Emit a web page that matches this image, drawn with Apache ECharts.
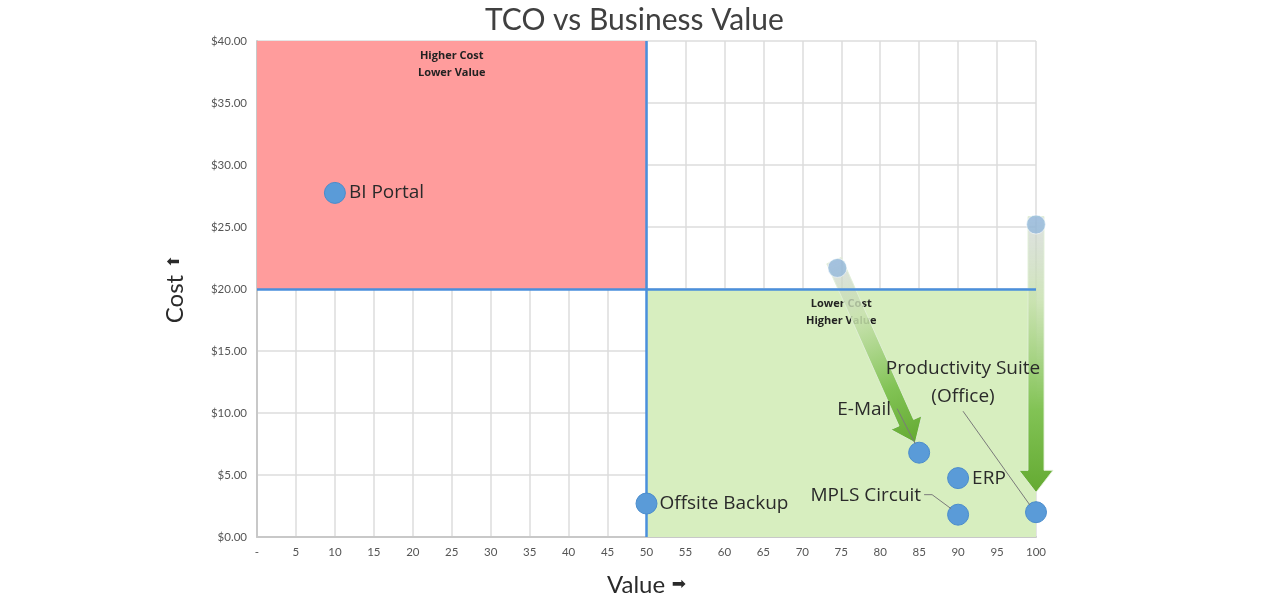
<!DOCTYPE html>
<html>
<head>
<meta charset="utf-8">
<script src="https://cdn.jsdelivr.net/npm/echarts@6/dist/echarts.min.js"></script>
<style>html,body{margin:0;padding:0;background:#fff;}#c{width:1284px;height:605px;}</style>
</head>
<body>
<div id="c"></div>
<script>
// ---- data ----
const titleText = 'TCO vs Business Value';
const xAxisName = 'Value';
const yAxisName = 'Cost';
const xAxisArrow = '\u27A1';
const yAxisArrow = '\u2B06';
const pointNames = ['BI Portal', 'Offsite Backup', 'E-Mail', 'ERP', 'MPLS Circuit', 'Productivity Suite\n(Office)'];
const pointValues = [10, 50, 85, 90, 90, 100];
const pointCosts = [27.75, 2.7, 6.8, 4.75, 1.8, 2.0];
const prevValues = [74.5, 100];
const prevCosts = [21.7, 25.2];
const arrowTipValues = [84.5, 100];
const arrowTipCosts = [7.6, 3.6];
const quadrantLabels = ['Higher Cost\nLower Value', 'Lower Cost\nHigher Value'];
const valueSplit = 50;
const costSplit = 20;
const valueMin = 0, valueMax = 100, valueStep = 5;
const costMin = 0, costMax = 40, costStep = 5;

// ---- styling (pixel offsets for labels / leader lines) ----
const labelStyles = [
  {position: 'right', distance: 3},
  {position: 'right', distance: 2},
  {position: 'inside', align: 'right', offset: [-28, -43]},
  {position: 'right', distance: 3},
  {position: 'inside', align: 'right', offset: [-37, -19]},
  {position: 'inside', align: 'center', offset: [-73, -130]}
];
const leaderLines = {
  2: [[-22, -44], [-4, -9]],
  4: [[-34, -20], [-26, -20], [-7, -6]],
  5: [[-73, -101], [-6, -7]]
};

const chart = echarts.init(document.getElementById('c'));
const pointData = pointNames.map((n, i) => ({
  name: n,
  value: [pointValues[i], pointCosts[i]],
  label: Object.assign({show: true, formatter: '{b}'}, labelStyles[i])
}));
const arrowData = prevValues.map((v, i) => [v, prevCosts[i], arrowTipValues[i], arrowTipCosts[i]]);

function renderArrow(params, api) {
  const p0 = api.coord([api.value(0), api.value(1)]);
  const p1 = api.coord([api.value(2), api.value(3)]);
  const dx = p1[0] - p0[0], dy = p1[1] - p0[1];
  const len = Math.sqrt(dx * dx + dy * dy);
  const ux = dx / len, uy = dy / len;
  const nx = -uy, ny = ux;
  const sw = 8, hw = 17, hl = 22;
  const s0 = [p0[0] - ux * 8, p0[1] - uy * 8];
  const hb = [p1[0] - ux * hl, p1[1] - uy * hl];
  const pts = [
    [s0[0] + nx * sw, s0[1] + ny * sw],
    [hb[0] + nx * sw, hb[1] + ny * sw],
    [hb[0] + nx * hw, hb[1] + ny * hw],
    p1,
    [hb[0] - nx * hw, hb[1] - ny * hw],
    [hb[0] - nx * sw, hb[1] - ny * sw],
    [s0[0] - nx * sw, s0[1] - ny * sw]
  ];
  return {
    type: 'polygon',
    shape: {points: pts},
    style: {
      fill: {
        type: 'linear', x: s0[0], y: s0[1], x2: p1[0], y2: p1[1], global: true,
        colorStops: [
          {offset: 0, color: 'rgba(205,210,210,0.65)'},
          {offset: 0.3, color: 'rgba(200,225,175,0.85)'},
          {offset: 0.7, color: 'rgba(130,195,85,1)'},
          {offset: 1, color: 'rgba(100,170,50,1)'}
        ]
      },
      stroke: 'rgba(225,240,215,0.9)',
      lineWidth: 1
    }
  };
}

function renderLeader(params, api) {
  const segs = leaderLines[params.dataIndex];
  if (!segs) return null;
  const p = api.coord([api.value(0), api.value(1)]);
  return {
    type: 'polyline',
    shape: {points: segs.map(s => [p[0] + s[0], p[1] + s[1]])},
    style: {stroke: '#7a7a7a', lineWidth: 1, fill: null}
  };
}

const option = {
  animation: false,
  title: {
    text: titleText, left: 480, top: 0,
    textStyle: {fontFamily: 'Lato', fontSize: 30, fontWeight: 'normal', color: '#404040'}
  },
  grid: {left: 257, right: 248, top: 41, bottom: 68},
  xAxis: {
    type: 'value', min: valueMin, max: valueMax, interval: valueStep,
    name: '{n|' + xAxisName + '}  {a|' + xAxisArrow + '}', nameLocation: 'middle', nameGap: 36,
    nameTextStyle: {
      rich: {
        n: {fontFamily: 'Lato', fontSize: 24, color: '#2a2a2a'},
        a: {fontFamily: 'DejaVu Sans', fontSize: 17, color: '#2a2a2a'}
      }
    },
    axisLine: {show: true, lineStyle: {color: '#c8c8c8', width: 2}},
    axisTick: {show: false},
    axisLabel: {
      margin: 9, fontFamily: 'Lato', fontSize: 11.5, color: '#555',
      formatter: v => v === 0 ? '-' : String(v)
    },
    splitLine: {lineStyle: {color: '#dcdcdc', width: 1.5}}
  },
  yAxis: {
    type: 'value', min: costMin, max: costMax, interval: costStep,
    name: '{n|' + yAxisName + '}  {a|' + yAxisArrow + '}', nameLocation: 'middle', nameGap: 70, nameRotate: 90,
    nameTextStyle: {
      rich: {
        n: {fontFamily: 'Lato', fontSize: 24, color: '#2a2a2a'},
        a: {fontFamily: 'DejaVu Sans', fontSize: 16, color: '#2a2a2a'}
      }
    },
    axisLine: {show: true, lineStyle: {color: '#c8c8c8', width: 2}},
    axisTick: {show: false},
    axisLabel: {
      margin: 10, fontFamily: 'Lato', fontSize: 11.5, color: '#555',
      formatter: v => '$' + v.toFixed(2)
    },
    splitLine: {lineStyle: {color: '#dcdcdc', width: 1.5}}
  },
  series: [
    {
      type: 'scatter', data: [], silent: true, z: 1,
      markArea: {
        silent: true,
        label: {
          position: 'insideTop', distance: 6, fontFamily: 'Open Sans', fontSize: 11,
          fontWeight: 'bold', color: '#222', lineHeight: 17
        },
        data: [
          [{name: quadrantLabels[0], xAxis: valueMin, yAxis: costSplit, itemStyle: {color: '#ff9c9c'}},
           {xAxis: valueSplit, yAxis: costMax}],
          [{name: quadrantLabels[1], xAxis: valueSplit, yAxis: costMin, itemStyle: {color: '#d7eebf'}},
           {xAxis: valueMax, yAxis: costSplit}]
        ]
      },
      markLine: {
        silent: true, symbol: 'none', label: {show: false},
        lineStyle: {color: '#4a8fdc', width: 2.5, type: 'solid'},
        data: [{xAxis: valueSplit}, {yAxis: costSplit}]
      }
    },
    {
      type: 'custom', renderItem: renderArrow, data: arrowData, z: 3, silent: true,
      encode: {x: [0, 2], y: [1, 3]}
    },
    {
      type: 'scatter', data: prevValues.map((v, i) => [v, prevCosts[i]]), z: 4,
      symbolSize: 19,
      itemStyle: {color: 'rgba(125,172,220,0.75)', borderColor: 'rgba(255,255,255,0.7)', borderWidth: 1}
    },
    {
      type: 'custom', renderItem: renderLeader, z: 6, silent: true,
      data: pointValues.map((v, i) => [v, pointCosts[i]])
    },
    {
      type: 'scatter', data: pointData, z: 5, symbolSize: 21,
      itemStyle: {color: '#5a9bd8', borderColor: '#4a8ccc', borderWidth: 1, opacity: 1},
      label: {fontFamily: 'Open Sans', fontSize: 19, color: '#2a2a2a', lineHeight: 28}
    }
  ]
};
chart.setOption(option);
</script>
</body>
</html>
